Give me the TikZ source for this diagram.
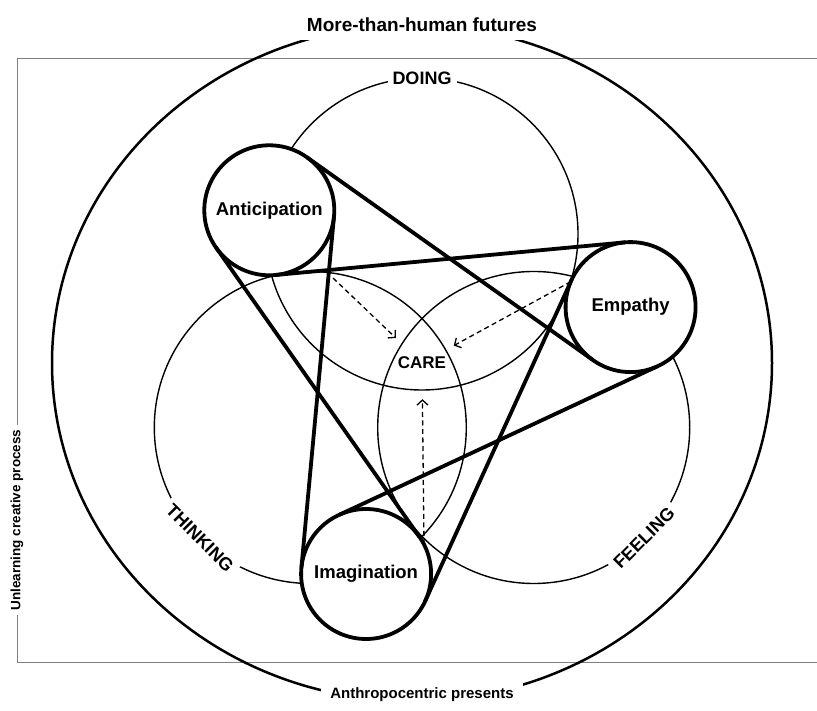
\documentclass[tikz,border=0pt]{standalone}
\usepackage{fontspec}
\setmainfont{Liberation Sans}
\usetikzlibrary{arrows.meta}

\begin{document}
\begin{tikzpicture}[x=1pt, y=1pt]
\tikzset{ >={Straight Barb[length=5pt,width=11pt]},
  thin circ/.style={line width=1.4pt},
  belt/.style={line width=3.8pt, line cap=round},
  lens/.style={circle, draw, line width=3.8pt, fill=white, minimum size=130pt,
    inner sep=0pt, outer sep=0pt, font=\bfseries\fontsize{18.5}{20}\selectfont},
  tag/.style={fill=white, inner sep=5pt, font=\bfseries\fontsize{18}{20}\selectfont},
  hint/.style={->, line width=1.3pt, dash pattern=on 5pt off 3.5pt},
}

\useasboundingbox (0,0) rectangle (817,710);

%\draw [lightgray, dashed](0,0) grid [step=50] (817,710);

% frame
\draw [gray, line width=0.8pt] (817,652) -- (17,652) -- (17,48) -- (817,48);

\draw [line width=2.5pt] (412,347) ellipse [x radius=360, y radius=338];

\draw [thin circ] (422.0,476.0) circle [radius=156];
\draw [thin circ] (310.3,282.5) circle [radius=156];
\draw [thin circ] (533.7,282.5) circle [radius=156];

\node [tag] (doing) at (422,632) {DOING};
\node [tag, rotate=-45] (thinking) at (200,172) {THINKING};
\node [tag, rotate=45]  (feeling)  at (644,172) {FEELING};

\node [tag, inner sep=8pt, font=\bfseries\fontsize{19}{21}\selectfont] (futures) at (422,685) {More-than-human futures};
\node [tag, inner sep=9pt, font=\bfseries\fontsize{15}{17}\selectfont] (presents) at (422,15) {Anthropocentric presents};
\node [tag, rotate=90, font=\bfseries\fontsize{13.5}{15}\selectfont] (unlearn) at (17,190) {Unlearning creative process};

% three lenses
\node [lens] (ant) at (269.3,499.7) {Anticipation};
\node [lens] (emp) at (630.6,402.9) {Empathy};
\node [lens] (ima) at (366.1,136.0) {Imagination};

% crossed belts
\draw [belt] (ant.54.7)  -- (emp.234.7);
\draw [belt] (ant.275.3) -- (emp.95.3);
\draw [belt] (emp.294.7) -- (ima.114.7);
\draw [belt] (emp.155.3) -- (ima.335.3);
\draw [belt] (ima.174.7) -- (ant.354.7);
\draw [belt] (ima.35.3)  -- (ant.215.3);

\node [circle, minimum size=72pt, inner sep=0pt, font=\bfseries\fontsize{17}{19}\selectfont] (care) at (422,347) {CARE};

\coordinate (a1) at (333,432);
\draw [hint] (a1) -- (care);
\draw [hint] (emp.157) -- (care);
\draw [hint] (ima.27) -- (care);

\end{tikzpicture}
\end{document}
